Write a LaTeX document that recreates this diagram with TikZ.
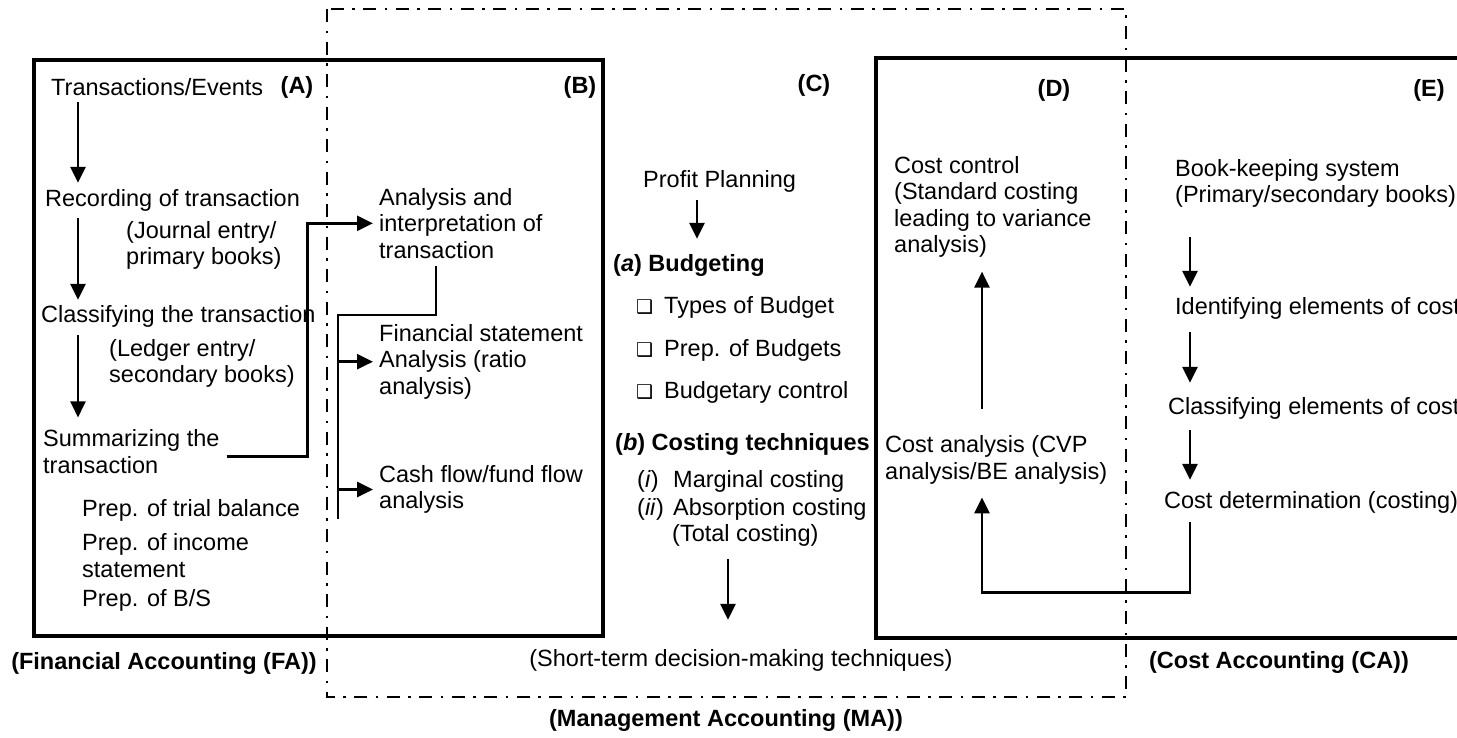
\documentclass[tikz,border=0pt]{standalone}
\usepackage{fontspec}
\setmainfont{Liberation Sans}
\newfontfamily\symfont{DejaVu Sans}
\usetikzlibrary{arrows.meta,positioning,calc}
\newcommand{\cbox}{{\symfont\fontsize{19}{19}\selectfont ❑}\hspace{11pt}}

\begin{document}
\begin{tikzpicture}[x=1pt,y=-1pt,
    txt/.style={anchor=west,inner sep=0pt,align=left,font=\fontsize{23.5}{26.5}\selectfont},
    tag/.style={inner sep=0pt,font=\fontsize{23.5}{26.5}\selectfont\bfseries},
    conn/.style={line width=2.7pt},
    arr/.style={conn,-{Triangle[length=16pt,width=15pt]}},
    frame/.style={line width=3.6pt},
    mgmt/.style={line width=2.3pt,dash pattern=on 13pt off 8.5pt on 2.5pt off 8.5pt}]
    \useasboundingbox (0,0) rectangle (1457,737);
    \clip (0,0) rectangle (1457,737);
    \draw [frame] (34,60) rectangle (603,636);
    \draw [frame] (876,58) rectangle (1490,638);
    \draw [mgmt] (327,9) rectangle (1126,697);
    \coordinate (colA) at (78,0);
    \coordinate (colC) at (697,0);
    \coordinate (colC2) at (728,0);
    \coordinate (colD) at (982,0);
    \coordinate (colE) at (1190,0);
    \coordinate (split) at (338,315);
    \node [tag] (tagA) at (297,87) {(A)};
    \node [tag] (tagB) at (580,87) {(B)};
    \node [tag] (tagC) at (814,85) {(C)};
    \node [tag] (tagD) at (1054,90) {(D)};
    \node [tag] (tagE) at (1429,90) {(E)};
    \node [txt] (trans) at (51,87) {Transactions/Events};
    \node [txt] (rec) at (45,200) {Recording of transaction};
    \node [txt] (jour) at (126,245.5) {(Journal entry/\\primary books)};
    \node [txt] (cls) at (41,316) {Classifying the transaction};
    \node [txt] (ledg) at (109,363.5) {(Ledger entry/\\secondary books)};
    \node [txt] (summ) at (43,451.5) {Summarizing the\\transaction};
    \node [txt] (trial) at (82,510) {Prep. of trial balance};
    \node [txt] (inc) at (82,555.5) {Prep. of income\\statement};
    \node [txt] (bs) at (82,600) {Prep. of B/S};
    \node [txt] (anal) at (379,223.3) {Analysis and\\interpretation of\\transaction};
    \node [txt] (fin) at (379,361.7) {Financial statement\\Analysis (ratio\\analysis)};
    \node [txt] (cash) at (379,489.5) {Cash flow/fund flow\\analysis};
    \node [txt] (pp) at (643,181) {Profit Planning};
    \node [txt] (budg) at (613,265) {\bfseries(\textit{a}) Budgeting};
    \node [txt] (types) at (636,307) {\cbox Types of Budget};
    \node [txt] (prep) at (636,350) {\cbox Prep. of Budgets};
    \node [txt] (bctrl) at (636,392) {\cbox Budgetary control};
    \node [txt] (cost) at (615,444) {\bfseries(\textit{b}) Costing techniques};
    \node [txt] (marg) at (637,481) {\makebox[36pt][l]{(\textit{i})}Marginal costing};
    \node [txt] (absorb) at (637,509) {\makebox[36pt][l]{(\textit{ii})}Absorption costing};
    \node [txt] (total) at (672,535) {(Total costing)};
    \node [txt] (ctrl) at (894,206.7) {Cost control\\(Standard costing\\leading to variance\\analysis)};
    \node [txt] (cana) at (885,460) {Cost analysis (CVP\\analysis/BE analysis)};
    \node [txt] (book) at (1175,183.5) {Book-keeping system\\(Primary/secondary books)};
    \node [txt] (ident) at (1175,308) {Identifying elements of cost};
    \node [txt] (clsc) at (1168,408) {Classifying elements of cost};
    \node [txt] (det) at (1164,502) {Cost determination (costing)};
    \node [tag] (fa) at (164,663) {(Financial Accounting (FA))};
    \node [txt,anchor=center] (short) at (741,660) {(Short-term decision-making techniques)};
    \node [tag] (ca) at (1279,662) {(Cost Accounting (CA))};
    \node [tag] (ma) at (726,720) {(Management Accounting (MA))};
    \draw [arr,shorten <=6pt,shorten >=6pt] (trans.south -| colA) -- (rec.north -| colA);
    \draw [arr,shorten <=7pt,shorten >=5pt] (rec.south -| colA) -- (cls.north -| colA);
    \draw [arr,shorten <=8pt,shorten >=12pt] (cls.south -| colA) -- (summ.north -| colA);
    \draw [arr,shorten >=6pt] ([shift={(7,5)}]summ.east) -- ++(81,0) |- (anal.west);
    \draw [conn,shorten <=7pt] ([xshift=-25pt]anal.south) |- (split) -- ++(0,204);
    \draw [arr,shorten >=6pt] (split |- fin.west) -- (fin.west);
    \draw [arr,shorten >=6pt] (split |- cash.west) -- (cash.west);
    \draw [arr,shorten <=8pt,shorten >=15pt] (pp.south -| colC) -- (budg.north -| colC);
    \draw [arr,shorten <=13pt,shorten >=29pt] (total.south -| colC2) -- (short.north -| colC2);
    \draw [arr,shorten <=27pt,shorten >=14pt] (cana.north -| colD) -- (ctrl.south -| colD);
    \draw [arr,shorten <=29pt,shorten >=10pt] (book.south -| colE) -- (ident.north -| colE);
    \draw [arr,shorten <=13pt,shorten >=14pt] (ident.south -| colE) -- (clsc.north -| colE);
    \draw [arr,shorten <=11pt,shorten >=11pt] (clsc.south -| colE) -- (det.north -| colE);
    \draw [arr,shorten <=9pt,shorten >=13pt] (det.south -| colE) -- ++(0,79) -| (cana.south -| colD);
\end{tikzpicture}
\end{document}
